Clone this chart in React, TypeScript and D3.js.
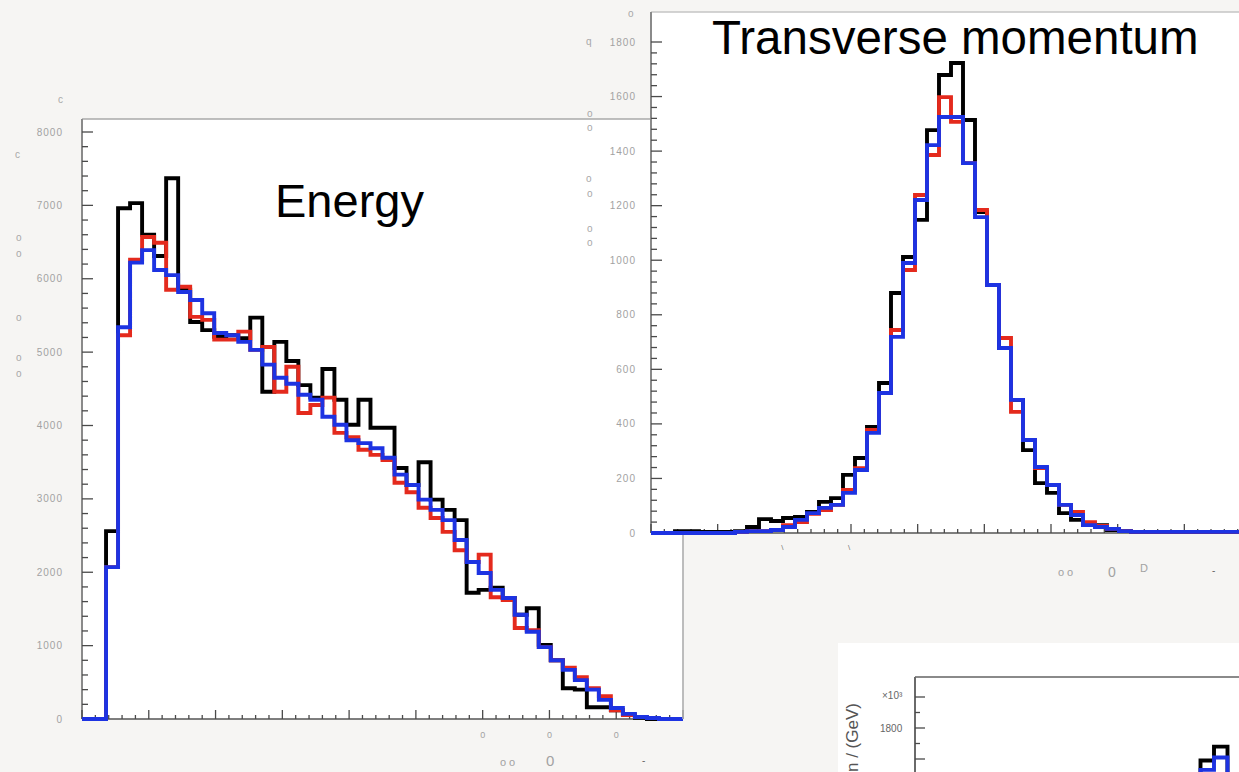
import React from "react";
import * as d3 from "d3";

// ---------------- data ----------------
const binWidth = 1.8; // x units per bin (50 bins over 0..90)

const energyYTicks = [0, 1000, 2000, 3000, 4000, 5000, 6000, 7000, 8000];
const energyBlack = [0, 0, 2560, 6960, 7030, 6600, 6310, 7370, 5850, 5410, 5300, 5210, 5230, 5190, 5470, 4460, 5140, 4880, 4550, 4380, 4770, 4350, 4010, 4350, 3970, 3970, 3420, 3190, 3500, 2990, 2850, 2710, 1720, 1760, 1790, 1650, 1420, 1510, 1010, 800, 420, 400, 160, 160, 120, 60, 15, 0, 0, 0];
const energyRed = [0, 0, 2070, 5230, 6260, 6570, 6490, 5850, 5890, 5480, 5440, 5170, 5170, 5280, 5030, 5070, 4460, 4800, 4170, 4280, 4380, 3900, 3840, 3670, 3600, 3530, 3220, 3090, 2880, 2740, 2550, 2300, 2140, 2240, 1660, 1620, 1240, 1210, 980, 800, 700, 570, 420, 310, 120, 55, 27, 14, 0, 0];
const energyBlue = [0, 0, 2070, 5340, 6220, 6390, 6120, 6050, 5820, 5710, 5530, 5260, 5230, 5140, 5030, 4830, 4650, 4570, 4420, 4350, 4120, 4010, 3800, 3760, 3690, 3560, 3330, 3190, 2990, 2850, 2710, 2440, 2140, 1990, 1760, 1650, 1420, 1190, 980, 800, 670, 530, 400, 260, 150, 70, 27, 14, 0, 0];

const ptYTicks = [0, 200, 400, 600, 800, 1000, 1200, 1400, 1600, 1800];
const ptBlack = [0, 0, 7, 7, 4, 4, 4, 7, 22, 51, 44, 55, 59, 77, 114, 128, 213, 275, 389, 550, 880, 1012, 1148, 1477, 1679, 1723, 1514, 1177, 909, 678, 488, 304, 183, 147, 73, 48, 29, 29, 11, 7, 4, 4, 4, 4, 4, 4, 4, 4, 4, 4];
const ptRed = [0, 0, 0, 0, 0, 0, 0, 4, 7, 7, 11, 29, 40, 70, 84, 103, 158, 238, 378, 513, 744, 964, 1239, 1386, 1598, 1507, 1356, 1184, 909, 715, 444, 341, 238, 176, 103, 77, 40, 26, 15, 7, 4, 4, 4, 4, 4, 4, 4, 4, 4, 4];
const ptBlue = [0, 0, 0, 0, 0, 0, 0, 4, 7, 7, 11, 22, 48, 73, 92, 103, 147, 231, 367, 513, 719, 990, 1221, 1422, 1525, 1525, 1356, 1158, 909, 678, 488, 341, 242, 176, 103, 66, 29, 22, 15, 7, 4, 4, 4, 4, 4, 4, 4, 4, 4, 4];

const massTicks = [1500, 1600, 1700, 1800, 1900, 2000];
const massBins = [21, 22];
const massBlack = [1590, 1680];
const massBlue = [1530, 1610];

// ---------------- helpers ----------------
const FONT = "'Liberation Sans', Arial, sans-serif";
const BLACK = "#000000";
const RED = "#e42a1d";
const BLUE = "#1d33e2";
const LW = 3.9;

function stepPath(vals: number[], x: (v: number) => number, y: (v: number) => number, w: number, start = 0) {
  const pts: [number, number][] = [];
  vals.forEach((v, i) => {
    pts.push([(start + i) * w, v]);
    pts.push([(start + i + 1) * w, v]);
  });
  return d3.line<[number, number]>().x((d) => x(d[0])).y((d) => y(d[1]))(pts) || "";
}

function sparseStep(bins: number[], vals: number[], x: (v: number) => number, y: (v: number) => number, base: number) {
  const pts: [number, number][] = [];
  pts.push([bins[0], base]);
  bins.forEach((b, i) => {
    pts.push([b, vals[i]]);
    pts.push([b + 1, vals[i]]);
  });
  pts.push([bins[bins.length - 1] + 1, base]);
  return d3.line<[number, number]>().x((d) => x(d[0])).y((d) => y(d[1]))(pts) || "";
}

export default function App() {
  const W = 1239;
  const H = 772;

  // Energy panel
  const exE = d3.scaleLinear().domain([0, 90]).range([82, 683]);
  const eyE = d3.scaleLinear().domain([0, 8000]).range([719, 132]);
  // Pt panel
  const xP = d3.scaleLinear().domain([0, 90]).range([651, 1251]);
  const yP = d3.scaleLinear().domain([0, 1800]).range([533, 42]);
  // mass panel
  const xM = d3.scaleLinear().domain([0, 24]).range([917, 1241]);
  const yM = d3.scaleLinear().domain([1800, 2000]).range([728, 697]);

  const xMinor = d3.range(0, 91, 2);
  const eMinor = d3.range(0, 8001, 200);
  const pMinor = d3.range(0, 1801, 40);

  const tickCol = "#4a4a4a";
  const labelCol = "#a2a2a2";

  const strayGlyphs: { t: string; x: number; y: number }[] = [
    { t: "c", x: 58, y: 103 },
    { t: "c", x: 15, y: 158 },
    { t: "o", x: 16, y: 241 },
    { t: "o", x: 16, y: 257 },
    { t: "o", x: 16, y: 321 },
    { t: "o", x: 16, y: 361 },
    { t: "o", x: 16, y: 377 },
    { t: "o", x: 628, y: 17 },
    { t: "q", x: 586, y: 45 },
    { t: "o", x: 587, y: 117 },
    { t: "o", x: 587, y: 131 },
    { t: "o", x: 586, y: 182 },
    { t: "o", x: 587, y: 197 },
    { t: "o", x: 587, y: 232 },
    { t: "o", x: 587, y: 246 },
  ];

  return (
    <svg
      width={W}
      height={H}
      viewBox={`0 0 ${W} ${H}`}
      style={{ position: "absolute", left: 0, top: 0, display: "block" }}
      fontFamily={FONT}
    >
      <rect x={0} y={0} width={W} height={H} fill="#f6f5f3" />

      {/* ============ Energy panel ============ */}
      <rect x={exE(0)} y={119} width={exE(90) - exE(0)} height={eyE(0) - 119} fill="#ffffff" />
      <line x1={exE(0)} y1={119} x2={exE(90)} y2={119} stroke="#a8a8a8" strokeWidth={1.5} />
      <line x1={exE(90)} y1={119} x2={exE(90)} y2={eyE(0)} stroke="#b8b8b8" strokeWidth={1.5} />
      <line x1={exE(0)} y1={119} x2={exE(0)} y2={eyE(0)} stroke="#8a8a8a" strokeWidth={2} />
      <line x1={exE(0)} y1={eyE(0)} x2={exE(90)} y2={eyE(0)} stroke="#555" strokeWidth={1.5} />
      {eMinor.map((v) => (
        <line key={"ey" + v} x1={exE(0)} x2={exE(0) + (v % 1000 === 0 ? 11 : 6)} y1={eyE(v)} y2={eyE(v)} stroke={tickCol} strokeWidth={1.3} />
      ))}
      {xMinor.map((v) => (
        <line key={"ex" + v} x1={exE(v)} x2={exE(v)} y1={eyE(0)} y2={eyE(0) - (v % 10 === 0 ? 9 : 4)} stroke={tickCol} strokeWidth={1.3} />
      ))}
      {energyYTicks.map((v) => (
        <text key={"eyl" + v} x={63} y={eyE(v) + 3.5} textAnchor="end" fontSize={10} fill={labelCol} letterSpacing={1}>
          {v}
        </text>
      ))}
      {[60, 70, 80].map((v) => (
        <text key={"exl" + v} x={exE(v)} y={738} textAnchor="middle" fontSize={9} fill={labelCol}>
          0
        </text>
      ))}
      <text x={500} y={766} fontSize={11} fill={labelCol} letterSpacing={3}>oo</text>
      <text x={546} y={766} fontSize={15} fill={labelCol}>0</text>
      <text x={642} y={764} fontSize={10} fill="#666">-</text>

      <path d={stepPath(energyBlack, exE, eyE, binWidth)} fill="none" stroke={BLACK} strokeWidth={LW} />
      <path d={stepPath(energyRed, exE, eyE, binWidth)} fill="none" stroke={RED} strokeWidth={LW} />
      <path d={stepPath(energyBlue, exE, eyE, binWidth)} fill="none" stroke={BLUE} strokeWidth={LW} />

      <text x={275} y={217} fontSize={47} fill="#000">Energy</text>

      {/* ============ Transverse momentum panel ============ */}
      <rect x={xP(0)} y={12} width={W - xP(0)} height={yP(0) - 12} fill="#ffffff" />
      <line x1={xP(0)} y1={12} x2={W} y2={12} stroke="#c4c4c4" strokeWidth={1.5} />
      <line x1={xP(0)} y1={12} x2={xP(0)} y2={yP(0)} stroke="#8a8a8a" strokeWidth={2} />
      <line x1={exE(90)} y1={yP(0)} x2={exE(90)} y2={eyE(0)} stroke="#b8b8b8" strokeWidth={1.5} />
      <line x1={xP(0)} y1={yP(0)} x2={W} y2={yP(0)} stroke="#555" strokeWidth={1.5} />
      {pMinor.map((v) => (
        <line key={"py" + v} x1={xP(0)} x2={xP(0) + (v % 200 === 0 ? 11 : 6)} y1={yP(v)} y2={yP(v)} stroke={tickCol} strokeWidth={1.3} />
      ))}
      {xMinor.map((v) => (
        <line key={"px" + v} x1={xP(v)} x2={xP(v)} y1={yP(0)} y2={yP(0) - (v % 10 === 0 ? 9 : 4)} stroke={tickCol} strokeWidth={1.3} />
      ))}
      {ptYTicks.map((v) => (
        <text key={"pyl" + v} x={636} y={yP(v) + 3.5} textAnchor="end" fontSize={10} fill={labelCol} letterSpacing={1}>
          {v}
        </text>
      ))}
      {[20, 30].map((v) => (
        <text key={"pxl" + v} x={xP(v) - 2} y={550} textAnchor="middle" fontSize={8} fill="#777">
          \
        </text>
      ))}
      <text x={1058} y={576} fontSize={11} fill={labelCol} letterSpacing={3}>oo</text>
      <text x={1108} y={577} fontSize={14} fill={labelCol}>0</text>
      <text x={1140} y={572} fontSize={11} fill={labelCol}>D</text>
      <text x={1212} y={574} fontSize={10} fill="#666">-</text>

      <path d={stepPath(ptBlack, xP, yP, binWidth)} fill="none" stroke={BLACK} strokeWidth={LW} />
      <path d={stepPath(ptRed, xP, yP, binWidth)} fill="none" stroke={RED} strokeWidth={LW} />
      <path d={stepPath(ptBlue, xP, yP, binWidth)} fill="none" stroke={BLUE} strokeWidth={LW} />

      <text x={712} y={54} fontSize={47.5} fill="#000">Transverse momentum</text>

      {strayGlyphs.map((g, i) => (
        <text key={"g" + i} x={g.x} y={g.y} fontSize={10} fill="#a8a8a8">
          {g.t}
        </text>
      ))}

      {/* ============ Mass panel (partially visible) ============ */}
      <rect x={838} y={643} width={W - 838} height={H - 643} fill="#ffffff" />
      <line x1={915} y1={677} x2={W} y2={677} stroke="#8a8a8a" strokeWidth={2} />
      <line x1={915} y1={677} x2={915} y2={H} stroke="#6a6a6a" strokeWidth={2} />
      {massTicks.map((v) => (
        <line key={"my" + v} x1={915} x2={915 + (v % 200 === 0 ? 10 : 5)} y1={yM(v)} y2={yM(v)} stroke={tickCol} strokeWidth={1.3} />
      ))}
      <text x={882} y={699} fontSize={10} fill="#666">×10³</text>
      <text x={880} y={732} fontSize={10} fill="#666">1800</text>
      <text transform="translate(858,772) rotate(-90)" fontSize={17} fill="#555">n / (GeV)</text>

      <path d={sparseStep(massBins, massBlack, xM, yM, 1400)} fill="none" stroke={BLACK} strokeWidth={LW} />
      <path d={sparseStep(massBins, massBlue, xM, yM, 1400)} fill="none" stroke={BLUE} strokeWidth={LW} />
    </svg>
  );
}
